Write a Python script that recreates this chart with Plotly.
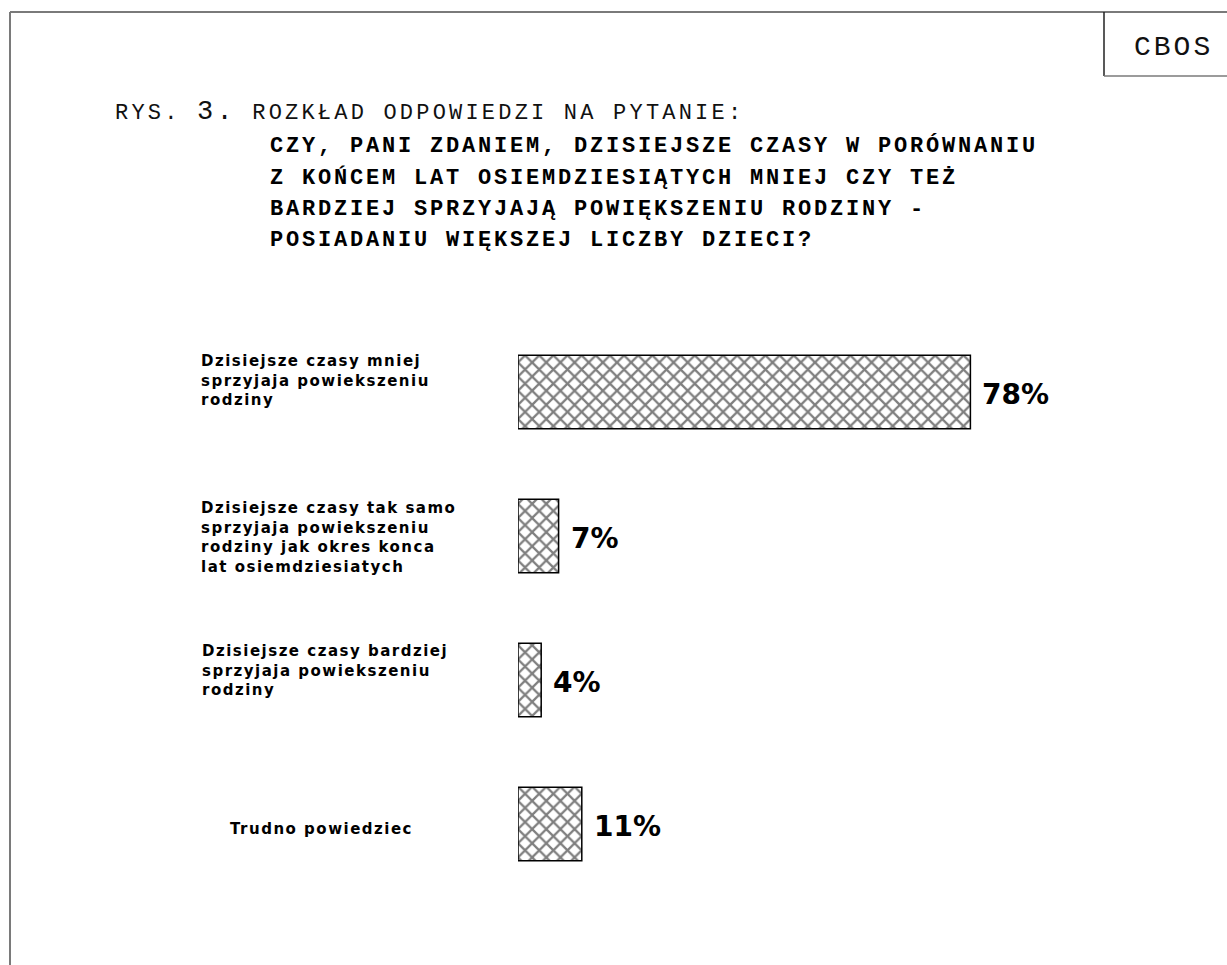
import plotly.graph_objects as go

# ---------------- data ----------------
category_lines = [
    ["Dzisiejsze czasy mniej", "sprzyjaja powiekszeniu", "rodziny"],
    ["Dzisiejsze czasy tak samo", "sprzyjaja powiekszeniu", "rodziny jak okres konca", "lat osiemdziesiatych"],
    ["Dzisiejsze czasy bardziej", "sprzyjaja powiekszeniu", "rodziny"],
    ["Trudno powiedziec"],
]
categories = [" ".join(lines) for lines in category_lines]
values = [78, 7, 4, 11]
value_labels = [f"{v}%" for v in values]

title_prefix = "RYS."
title_number = "3."
title_intro = "ROZKŁAD ODPOWIEDZI NA PYTANIE:"
question_lines = [
    "CZY, PANI ZDANIEM, DZISIEJSZE CZASY W PORÓWNANIU",
    "Z KOŃCEM LAT OSIEMDZIESIĄTYCH MNIEJ CZY TEŻ",
    "BARDZIEJ SPRZYJAJĄ POWIĘKSZENIU RODZINY -",
    "POSIADANIU WIĘKSZEJ LICZBY DZIECI?",
]
source_label = "CBOS"

# ---------------- layout helpers ----------------
W, H = 1227, 965
PLOT_L, PLOT_R, PLOT_T, PLOT_B = 518, 1098, 320, 896


def px(x):
    return x / W


def py(y):
    return 1 - y / H


MONO = "Courier New, Liberation Mono, monospace"
SANS = "DejaVu Sans, Arial, sans-serif"


def spaced(text, ls):
    return f'<span style="letter-spacing:{ls}px">{text}</span>'


fig = go.Figure()
fig.add_trace(go.Bar(
    x=values,
    y=categories,
    orientation="h",
    width=0.51,
    marker=dict(
        color="white",
        line=dict(color="black", width=1.5),
        pattern=dict(shape="x", fgcolor="black", bgcolor="white", size=10, solidity=0.4),
    ),
    hoverinfo="skip",
))

annotations = []

# category labels (multi-line, left aligned, top aligned near the bar top)
label_left_px = [200, 200, 201, 229]
label_top_dy = [-41, -38, -39, -5]
cat_fs = 15
for i, (cat, lines) in enumerate(zip(categories, category_lines)):
    annotations.append(dict(
        x=px(label_left_px[i]), xref="paper", xanchor="left",
        y=cat, yref="y", yanchor="top", yshift=-label_top_dy[i],
        text=spaced("<br>".join(lines), 1.5), showarrow=False, align="left",
        borderpad=0,
        font=dict(family=SANS, size=cat_fs, color="black", weight="bold"),
    ))

# value labels
for cat, v, lab in zip(categories, values, value_labels):
    annotations.append(dict(
        x=v, xref="x", xanchor="left", xshift=10,
        y=cat, yref="y", yanchor="middle", yshift=-2,
        text=lab, showarrow=False,
        font=dict(family=SANS, size=28, color="black", weight="bold"),
    ))

# title block
mono_fs = 22
annotations.append(dict(
    x=px(113), xref="paper", xanchor="left",
    y=py(118 - 0.267 * mono_fs), yref="paper", yanchor="middle",
    text=spaced(f'{title_prefix} <span style="font-size:27px">{title_number}</span> {title_intro}', 3.2),
    showarrow=False,
    font=dict(family=MONO, size=mono_fs, color="#111"),
))
q_baselines = [152, 183.5, 215, 246.5]
for line, b in zip(question_lines, q_baselines):
    annotations.append(dict(
        x=px(269), xref="paper", xanchor="left",
        y=py(b - 0.267 * mono_fs), yref="paper", yanchor="middle",
        text=spaced(line, 2.8), showarrow=False, borderpad=0,
        font=dict(family=MONO, size=mono_fs, color="black", weight="bold"),
    ))

# source box label
annotations.append(dict(
    x=px(1132), xref="paper", xanchor="left",
    y=py(55 - 0.267 * 28), yref="paper", yanchor="middle",
    text=spaced(source_label, 3), showarrow=False,
    font=dict(family=MONO, size=28, color="#111"),
))

frame_gray = "#7a7a7a"
shapes = [
    dict(type="line", xref="paper", yref="paper", x0=px(10), x1=1.0, y0=py(12), y1=py(12),
         line=dict(color=frame_gray, width=2)),
    dict(type="line", xref="paper", yref="paper", x0=px(10), x1=px(10), y0=py(12), y1=0,
         line=dict(color=frame_gray, width=2)),
    dict(type="line", xref="paper", yref="paper", x0=px(1104), x1=px(1104), y0=py(12), y1=py(76),
         line=dict(color="#222", width=1.5)),
    dict(type="line", xref="paper", yref="paper", x0=px(1104), x1=1.0, y0=py(76), y1=py(76),
         line=dict(color=frame_gray, width=1.5)),
]

fig.update_layout(
    width=W, height=H,
    margin=dict(l=0, r=0, t=0, b=0),
    paper_bgcolor="white", plot_bgcolor="white",
    showlegend=False,
    xaxis=dict(range=[0, 100], domain=[px(PLOT_L), px(PLOT_R)], visible=False, fixedrange=True),
    yaxis=dict(type="category", categoryorder="array", categoryarray=categories,
               range=[3.5, -0.5], domain=[py(PLOT_B), py(PLOT_T)], visible=False, fixedrange=True),
    annotations=annotations,
    shapes=shapes,
)

fig.write_html("out.html", config={"displayModeBar": False},
               post_script="document.body.style.margin='0';document.body.style.overflow='hidden';")
